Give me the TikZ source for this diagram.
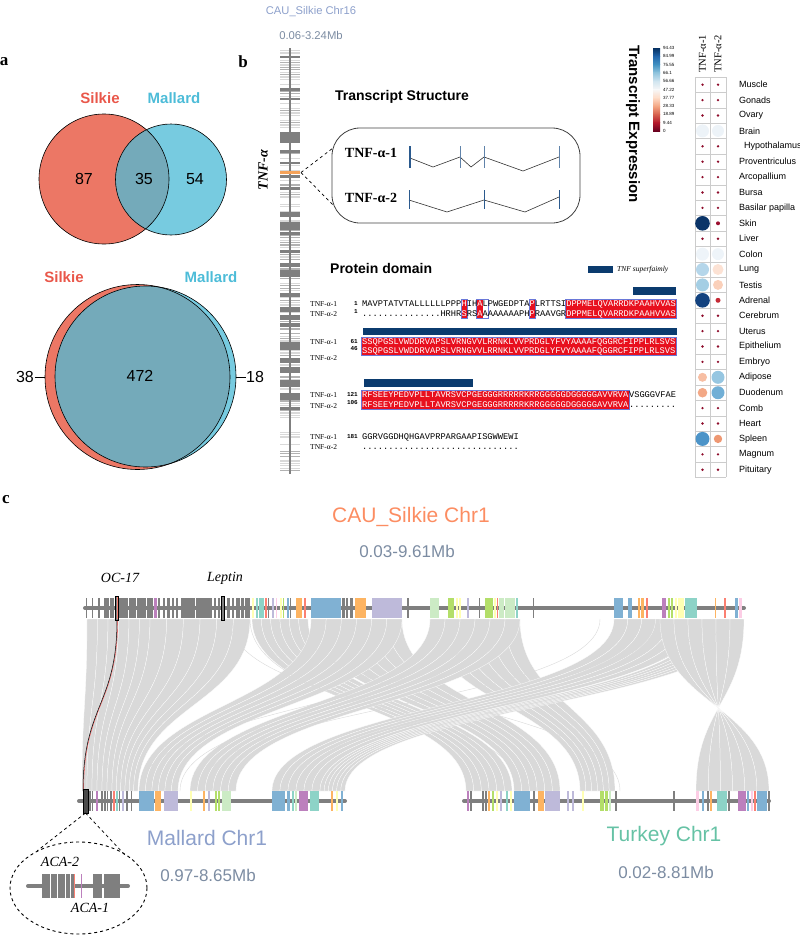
\documentclass[tikz,border=0pt]{standalone}
\usepackage{fontspec}
\setmainfont{Liberation Serif}
\setsansfont{Liberation Sans}
\setmonofont{Liberation Mono}
\usetikzlibrary{calc}

\newcommand\fsz[1]{\fontsize{#1}{#1}\selectfont}

% venn colours
\definecolor{silkie}{HTML}{EC7765}
\definecolor{mallard}{HTML}{77CBE0}
\definecolor{overlap}{HTML}{74AABA}
\definecolor{silkietxt}{HTML}{E9574A}
\definecolor{mallardtxt}{HTML}{4DBCD8}
% chromosome colours
\definecolor{chrgrey}{HTML}{7F7F7F}
\definecolor{darkchr}{HTML}{4A4A4A}
\definecolor{linkgrey}{HTML}{D9D9D9}
\definecolor{tnforange}{HTML}{F4A259}
\definecolor{cb}{HTML}{80B1D3}
\definecolor{co}{HTML}{FDB462}
\definecolor{cl}{HTML}{BEBADA}
\definecolor{cg}{HTML}{CCEBC5}
\definecolor{cG}{HTML}{B3DE69}
\definecolor{cy}{HTML}{FFFFB3}
\definecolor{ct}{HTML}{8DD3C7}
\definecolor{cp}{HTML}{BC80BD}
\definecolor{cr}{HTML}{FB8072}
\definecolor{ck}{HTML}{FCCDE5}
% titles
\definecolor{titleblue}{HTML}{8DA0CB}
\definecolor{rangegrey}{HTML}{7C8CA2}
\definecolor{titleorange}{HTML}{FC8D62}
\definecolor{titlegreen}{HTML}{66C2A5}
% alignment and transcript
\definecolor{alnred}{HTML}{E8101E}
\definecolor{alnblue}{HTML}{6A78D8}
\definecolor{domainblue}{HTML}{0B3B6E}
\definecolor{exonblue}{HTML}{2B5A8E}
% RdBu scale
\definecolor{rb0}{HTML}{053061}
\definecolor{rb1}{HTML}{2166AC}
\definecolor{rb2}{HTML}{4393C3}
\definecolor{rb3}{HTML}{92C5DE}
\definecolor{rb4}{HTML}{D1E5F0}
\definecolor{rb5}{HTML}{F7F7F7}
\definecolor{rb6}{HTML}{FDDBC7}
\definecolor{rb7}{HTML}{F4A582}
\definecolor{rb8}{HTML}{D6604D}
\definecolor{rb9}{HTML}{B2182B}
\definecolor{rb10}{HTML}{67001F}
\definecolor{hdot}{HTML}{8E0C2B}
\definecolor{hbrain}{HTML}{EDF3F8}
\definecolor{hcolon}{HTML}{EEF4F9}
\definecolor{hskin}{HTML}{0A3468}
\definecolor{hskinb}{HTML}{9C1030}
\definecolor{hlung}{HTML}{B5D6EA}
\definecolor{hlungb}{HTML}{FCE2D4}
\definecolor{htestis}{HTML}{A4CEE4}
\definecolor{htestisb}{HTML}{FAD0BA}
\definecolor{hadrenal}{HTML}{13427F}
\definecolor{hadrenalb}{HTML}{C52A36}
\definecolor{hadipose}{HTML}{F7BEA3}
\definecolor{hadiposeb}{HTML}{96C6E1}
\definecolor{hduo}{HTML}{F3A886}
\definecolor{hduob}{HTML}{71AFD6}
\definecolor{hspleen}{HTML}{4D94C8}
\definecolor{hspleenb}{HTML}{EE9873}

\tikzset{
    every node/.style={inner sep=0pt},
    venn/.style={draw=black, line width=0.6pt},
    vennlab/.style={font=\sffamily\bfseries\fsz{15}},
    vennnum/.style={font=\sffamily\fsz{16}},
    panel/.style={font=\bfseries\fsz{17}},
    subtitle/.style={font=\sffamily\bfseries\fsz{14}},
    aln/.style={font=\ttfamily\fsz{8.7}, anchor=base west},
    alnlab/.style={font=\fsz{7.5}, anchor=base west},
    alnnum/.style={font=\ttfamily\bfseries\fsz{6}, anchor=base east},
    exonline/.style={draw=exonblue, line width=1pt},
    intron/.style={draw=black!80, line width=0.6pt},
    chrline/.style={draw=chrgrey, line width=4pt, line cap=round},
    synlink/.style={fill=linkgrey, draw=white, line width=0.25pt},
    thinlink/.style={draw=linkgrey, line width=0.4pt},
    tissue/.style={font=\sffamily\fsz{9}, anchor=west},
    heatgrid/.style={draw=black!20, line width=0.5pt},
    cblab/.style={font=\sffamily\fsz{4.5}, anchor=west},
    bigtitle/.style={font=\sffamily\fsz{21}},
    rangetxt/.style={font=\sffamily\fsz{17}, text=rangegrey},
    genelab/.style={font=\itshape\fsz{14}},
}

\newcommand\segm[5]{\node[aln, text=#4] (#1) at ({362+(#2-1)*5.233},#3) {#5};}
\newcommand\redcol[4]{\fill[alnred] ({362+(#1-1)*5.233-0.3},#3) rectangle ({362+#2*5.233+0.3},#4);}
\newcommand\bluecol[4]{\draw[alnblue, line width=0.5pt] ({362+(#1-1)*5.233-0.5},#3) rectangle ({362+#2*5.233+0.5},#4);}

\begin{document}
\begin{tikzpicture}[x=1pt, y=-1pt]
\useasboundingbox (0,0) rectangle (800,938);

% ---------------- panel a ----------------
\node[panel] (la) at (4,62) {a};
\node[vennlab, text=silkietxt] (silk1) at (100,98) {Silkie};
\node[vennlab, text=mallardtxt] (mall1) at (174,98) {Mallard};
\fill[silkie] (104,179) circle (65);
\fill[mallard] (171,179.5) circle (55.5);
\begin{scope}
    \clip (104,179) circle (65);
    \fill[overlap] (171,179.5) circle (55.5);
\end{scope}
\draw[venn] (104,179) circle (65);
\draw[venn] (171,179.5) circle (55.5);
\node[vennnum] (n87) at (84,179) {87};
\node[vennnum] (n35) at (144,179) {35};
\node[vennnum] (n54) at (195,179) {54};

\node[vennlab, text=silkietxt] (silk2) at (64,277) {Silkie};
\node[vennlab, text=mallardtxt] (mall2) at (211,277) {Mallard};
\fill[silkie] (137.5,377) circle (92.5);
\fill[mallard] (145.5,376.5) circle (90.5);
\begin{scope}
    \clip (137.5,377) circle (92.5);
    \fill[overlap] (145.5,376.5) circle (90.5);
\end{scope}
\draw[venn] (137.5,377) circle (92.5);
\draw[venn] (145.5,376.5) circle (90.5);
\node[vennnum] (n472) at (140,376) {472};
\node[vennnum, anchor=east] (n38) at (34,377) {38};
\node[vennnum, anchor=west] (n18) at (246,377) {18};
\draw[line width=0.6pt] ($(n38.east)+(0.5,0)$) -- (45,377);
\draw[line width=0.6pt] (236,377) -- ($(n18.west)+(-0.5,0)$);

% ---------------- panel b ----------------
\node[panel] (lb) at (243,62) {b};
\node[font=\sffamily\fsz{11.2}, text=titleblue] (chr16) at (311,12) {CAU\_Silkie Chr16};
\node[font=\sffamily\fsz{11.3}, text=rangegrey] (chr16r) at (311,35) {0.06-3.24Mb};

% vertical chromosome
\pgfmathsetseed{11}
\foreach \y in {50,52.4,...,471} {
    \pgfmathrandominteger{\r}{0}{9}
    \ifnum\r<4 \fill[gray!30] (280,\y) rectangle (300,\y+1.1);
    \else\ifnum\r<7 \fill[gray!60] (280,\y) rectangle (300,\y+1.1); \fi\fi
}
\foreach \a/\b in {56/58, 88/91, 98/100, 132/143, 150/153, 162/164, 175/178, 187/190,
    212/217, 222/230, 232/235, 250/253, 263/267, 270/277, 293/297, 307/312, 315/320,
    323/327, 342/350, 358/363, 367/373, 380/387, 393/400, 407/410}
    \fill[chrgrey] (280,\a) rectangle (300,\b);
\draw[chrgrey, line width=1.5pt] (290,48) -- (290,474);
\fill[tnforange] (280,171) rectangle (300,173.5);
\node[rotate=90, font=\bfseries\itshape\fsz{14}] (tnf) at (263,170) {TNF-α};

% transcript structure
\node[subtitle] (tstruct) at (402,97) {Transcript Structure};
\coordinate (zoomtip) at (301,172.5);
\draw[dashed, line width=0.7pt] (zoomtip) -- (333,148);
\draw[dashed, line width=0.7pt] (zoomtip) -- (333,205);
\draw[black!75, line width=0.8pt, rounded corners=28pt] (332,128) rectangle (580,223);
\node[font=\bfseries\fsz{14}] (tr1) at (371,153) {TNF-α-1};
\node[font=\bfseries\fsz{14}] (tr2) at (371,198) {TNF-α-2};
\draw[intron] (410,158) -- (433,167) -- (460,157) -- (471,167) -- (484,157) -- (523,171) -- (559,157);
\draw[intron] (409,200) -- (447,212) -- (484,200) -- (525,212) -- (559,197);
\draw[exonline, line width=1.8pt] (410,146) -- (410,168);
\foreach \x in {460,484,559}
    \draw[exonline, draw=exonblue!75] (\x,146) -- (\x,168);
\foreach \x in {409,484,559}
    \draw[exonline] (\x,190) -- (\x,209);

% protein domain
\node[subtitle, anchor=west] (pdom) at (330,268) {Protein domain};
\fill[domainblue] (588,266) rectangle (613,273);
\node[font=\itshape\fsz{7.5}, anchor=west] (legtxt) at (617,270) {TNF superfaimly};

% block 1
\fill[domainblue] (633,287) rectangle (676,295);
\redcol{20}{20}{299}{318.5}
\redcol{23}{23}{299}{318.5}
\redcol{33}{33}{299}{318.5}
\redcol{40}{60}{299}{318.5}
\bluecol{20}{20}{299}{318.5}
\bluecol{23}{24}{299}{318.5}
\bluecol{33}{33}{299}{318.5}
\bluecol{40}{60}{299}{318.5}
\node[alnlab] (b1l1) at (310,306) {TNF-α-1};
\node[alnlab] (b1l2) at (310,316) {TNF-α-2};
\node[alnnum] (b1n1) at (358,305.5) {1};
\node[alnnum] (b1n2) at (358,313.5) {1};
\segm{a1a}{1}{306}{black}{MAVPTATVTALLLLLLPPP}
\segm{a1b}{20}{306}{white}{H}
\segm{a1c}{21}{306}{black}{IH}
\segm{a1d}{23}{306}{white}{A}
\segm{a1e}{24}{306}{black}{LPWGEDPTA}
\segm{a1f}{33}{306}{white}{P}
\segm{a1g}{34}{306}{black}{LRTTSI}
\segm{a1h}{40}{306}{white}{DPPMELQVARRDKPAAHVVAS}
\segm{a2a}{1}{316}{black}{...............HRHR}
\segm{a2b}{20}{316}{white}{S}
\segm{a2c}{21}{316}{black}{RS}
\segm{a2d}{23}{316}{white}{A}
\segm{a2e}{24}{316}{black}{AAAAAAAPH}
\segm{a2f}{33}{316}{white}{P}
\segm{a2g}{34}{316}{black}{RAAVGR}
\segm{a2h}{40}{316}{white}{DPPMELQVARRDKPAAHVVAS}

% block 2
\fill[domainblue] (363,328) rectangle (677,335);
\redcol{1}{60}{337.5}{355}
\bluecol{1}{60}{337.5}{355}
\node[alnlab] (b2l1) at (310,344) {TNF-α-1};
\node[alnlab] (b2l2) at (310,360) {TNF-α-2};
\node[alnnum] (b2n1) at (358,343.5) {61};
\node[alnnum] (b2n2) at (358,350.5) {46};
\segm{b1a}{1}{344}{white}{SSQPGSLVWDDRVAPSLVRNGVVLRRNKLVVPRDGLYFVYAAAAFQGGRCFIPPLRLSVS}
\segm{b2a}{1}{353}{white}{SSQPGSLVWDDRVAPSLVRNGVVLRRNKLVVPRDGLYFVYAAAAFQGGRCFIPPLRLSVS}

% block 3
\fill[domainblue] (364,379) rectangle (473,387);
\redcol{1}{51}{390}{409.5}
\bluecol{1}{51}{390}{409.5}
\node[alnlab] (b3l1) at (310,397) {TNF-α-1};
\node[alnlab] (b3l2) at (310,408) {TNF-α-2};
\node[alnnum] (b3n1) at (358,396) {121};
\node[alnnum] (b3n2) at (358,404) {106};
\segm{c1a}{1}{397}{white}{RFSEEYPEDVPLLTAVRSVCPGEGGGRRRRRKRRGGGGGDGGGGGAVVRVA}
\segm{c1b}{52}{397}{black}{VSGGGVFAE}
\segm{c2a}{1}{407.5}{white}{RFSEEYPEDVPLLTAVRSVCPGEGGGRRRRRKRRGGGGGDGGGGGAVVRVA}
\segm{c2b}{52}{407.5}{black}{.........}

% block 4
\node[alnlab] (b4l1) at (310,439) {TNF-α-1};
\node[alnlab] (b4l2) at (310,449) {TNF-α-2};
\node[alnnum] (b4n1) at (358,438) {181};
\segm{d1a}{1}{439}{black}{GGRVGGDHQHGAVPRPARGAAPISGWWEWI}
\segm{d2a}{1}{449}{black}{..............................}

% expression
\node[rotate=-90, anchor=west, font=\sffamily\bfseries\fsz{15}] (texpr) at (633,45) {Transcript Expression};
\foreach \i in {0,...,9} {
    \pgfmathtruncatemacro\j{\i+1}
    \shade[top color=rb\i, bottom color=rb\j] (653,{48+\i*8.3}) rectangle (660,{48+(\i+1)*8.3+0.2});
}
\foreach \v [count=\i from 0] in {94.43,84.99,75.55,66.1,56.66,47.22,37.77,28.33,18.89,9.44,0}
    \node[cblab] (cb\i) at (663,{48+\i*8.3}) {\v};

\node[rotate=90, anchor=west, font=\fsz{10.5}] (col1) at (702.5,73) {TNF-α-1};
\node[rotate=90, anchor=west, font=\fsz{10.5}] (col2) at (718,73) {TNF-α-2};
\foreach \i in {0,...,26}
    \draw[heatgrid] (695,{77+\i*15.4}) -- (726,{77+\i*15.4});
\foreach \x in {695,710,726}
    \draw[heatgrid] (\x,77) -- (\x,477.4);
\foreach \tname/\ra/\ca/\rb/\cbb [count=\i] in {
    Muscle/1.3/hdot/1.3/hdot, Gonads/1.3/hdot/1.3/hdot, Ovary/1.3/hdot/1.3/hdot,
    Brain/6.5/hbrain/6/hbrain, {\hspace*{5pt}Hypothalamus}/1.3/hdot/1.3/hdot,
    Proventriculus/1.3/hdot/1.3/hdot, Arcopallium/1.3/hdot/1.3/hdot,
    Bursa/1.3/hdot/1.3/hdot, Basilar papilla/1.3/hdot/1.3/hdot,
    Skin/7.3/hskin/2/hskinb, Liver/1.3/hdot/1.3/hdot, Colon/6.5/hcolon/6/hcolon,
    Lung/6.5/hlung/5.5/hlungb, Testis/6.5/htestis/5/htestisb,
    Adrenal/7.3/hadrenal/2.5/hadrenalb, Cerebrum/1.3/hdot/1.3/hdot,
    Uterus/1.3/hdot/1.3/hdot, Epithelium/1.3/hdot/1.3/hdot, Embryo/1.3/hdot/1.3/hdot,
    Adipose/4.5/hadipose/6.5/hadiposeb, Duodenum/4.8/hduo/6.5/hduob,
    Comb/1.3/hdot/1.3/hdot, Heart/1.3/hdot/1.3/hdot, Spleen/7/hspleen/4.2/hspleenb,
    Magnum/1.3/hdot/1.3/hdot, Pituitary/1.3/hdot/1.3/hdot} {
    \pgfmathsetmacro\yc{77+(\i-0.5)*15.4}
    \fill[\ca] (702.5,\yc) circle (\ra);
    \fill[\cbb] (718,\yc) circle (\rb);
    \node[tissue] (tis\i) at (739,\yc) {\tname};
}

% ---------------- panel c ----------------
\node[panel] (lc) at (6,500) {c};
\node[bigtitle, text=titleorange] (silkiechr) at (411,517) {CAU\_Silkie Chr1};
\node[rangetxt] (silkier) at (407,551) {0.03-9.61Mb};

% synteny links
\foreach \a/\b/\c/\d in {87/150/82/112, 150/250/112/138, 252/308/466/512,
    311/402/514/560, 311/402/139/178, 430/520/580/615, 430/520/190/236,
    614/697/272/320, 700/744/320/345, 660/744/769/696} {
    \foreach \k in {0,...,5} {
        \pgfmathsetmacro\pa{\a+(\b-\a)*\k/6}
        \pgfmathsetmacro\pb{\a+(\b-\a)*(\k+1)/6}
        \pgfmathsetmacro\pc{\c+(\d-\c)*\k/6}
        \pgfmathsetmacro\pd{\c+(\d-\c)*(\k+1)/6}
        \filldraw[synlink] (\pa,619) .. controls (\pa,705) and (\pc,705) .. (\pc,791)
            -- (\pd,791) .. controls (\pd,705) and (\pb,705) .. (\pb,619) -- cycle;
    }
}
\foreach \a/\c in {640/300, 655/310, 700/290, 720/330, 300/620, 250/470, 480/140, 500/180, 230/520, 600/200}
    \draw[thinlink] (\a,619) .. controls (\a,705) and (\c,705) .. (\c,791);
\draw[red!70, line width=0.4pt] (117.6,620) .. controls (117.6,705) and (83.6,705) .. (83.6,791);
\draw[black, line width=0.5pt] (117,620) .. controls (117,705) and (83,705) .. (83,791);

% chromosomes
\draw[chrline] (85,608) -- (744,608);
\draw[chrline] (79,801) -- (345,801);
\draw[chrline] (464,801) -- (769,801);
\foreach \x/\w/\c in {86/1.2/chrgrey, 92/1.2/chrgrey, 98/1.5/chrgrey, 104/5/chrgrey,
    110/4/chrgrey, 119/9/chrgrey, 129/7/chrgrey, 137/9/chrgrey, 147/6/chrgrey,
    154/2.5/cp, 158/1.5/chrgrey, 163/1.5/chrgrey, 167/2.5/chrgrey, 172/1.5/chrgrey,
    176/2/chrgrey, 181/14/chrgrey, 196/16/chrgrey, 214/1.5/chrgrey, 218/2/chrgrey,
    227/3/chrgrey, 232/2/chrgrey, 236/4/chrgrey, 241/3/chrgrey, 245/5/chrgrey,
    252/1.5/cy, 256/2/ct, 259/5/ct, 265/1.5/cr, 268/1/chrgrey, 272/1.5/cl, 276/1/ck,
    280/1.5/cy, 283/1/cG, 287/1.5/cb, 290/1/chrgrey, 296/6/co, 304/1.5/cr,
    311/30/cb, 342/3/chrgrey, 346/2/chrgrey, 350/3/chrgrey, 355/11/co, 372/30/cl,
    407/2/chrgrey, 430/9/cg, 448/6/cG, 456/1.5/cy, 459/1.5/cy, 467/1.5/cl,
    479/1/chrgrey, 485/8/cG, 494/2/cy, 497/1/cr, 499/5/cg, 505/10/cg, 516/2/ct,
    533/1/chrgrey, 614/9/cb, 628/4/cb, 638/2/co, 641/3/co, 646/2/cr, 662/4/cp,
    668/1.5/cG, 671/2/cG, 675/2/cy, 678/6/cy, 685/12/ct, 715/1/co, 724/2/cr,
    735/3/cb, 739/2.5/ck}
    \fill[\c] (\x,598) rectangle ++(\w,20);
\draw[black, line width=0.5pt, fill=chrgrey] (115.5,596) rectangle (118.5,620);
\draw[cr, line width=0.5pt] (117,597) -- (117,619);
\draw[black, line width=0.5pt, fill=chrgrey] (221.5,596) rectangle (224.5,620);
\node[genelab] (oc17) at (120,578) {OC-17};
\node[genelab] (leptin) at (225,578) {Leptin};

\foreach \x/\w/\c in {89/1.5/chrgrey, 92/1/chrgrey, 96/1.5/cp, 101/1.5/chrgrey,
    104/2/chrgrey, 107/1/chrgrey, 110/2/chrgrey, 113/1.5/cr, 116/2/ct, 119/1/chrgrey,
    122/1.5/cl, 126/1.5/chrgrey, 131/1/chrgrey, 139/15/cb, 155/6/co, 164/14/cl,
    190/2/cy, 203/1.5/co, 208/1.5/cl, 215/2/cG, 218/2/cG, 222/9/cg, 272/13/cb,
    287/3/cb, 292/2/ct, 295/2/cg, 299/9/cp, 310/9/ct, 331/1.5/co, 336/1.5/cy,
    341/1.5/cb,
    467/1.5/cp, 470/1.5/chrgrey, 482/2/chrgrey, 485/2/chrgrey, 488/1.5/co,
    492/1.5/cG, 496/1.5/cy, 500/1.5/cl, 506/1.5/ct, 510/2/cy, 514/16/cb,
    533/1.5/chrgrey, 538/6/co, 545/15/cl, 567/1.5/cl, 572/1.5/cl, 582/1.5/cy,
    600/4/cG, 605/3/cG, 609/2/cg, 615/1.5/chrgrey, 673/2/chrgrey, 696/2.5/ck,
    702/2/cb, 707/1.5/chrgrey, 710/2/co, 717/10/ct, 728/1.5/chrgrey, 738/8/cp,
    747/2/cb, 751/1.5/ck, 754/2/cr, 757/10/cb, 768/2/chrgrey}
    \fill[\c] (\x,791) rectangle ++(\w,20);
\draw[black, line width=0.4pt, fill=darkchr] (83,789) rectangle (88,813);

\node[bigtitle, text=titleblue] (mallchr) at (207,838) {Mallard Chr1};
\node[rangetxt] (mallr) at (208,875) {0.97-8.65Mb};
\node[bigtitle, text=titlegreen] (turkchr) at (664,836) {Turkey Chr1};
\node[rangetxt] (turkr) at (666,872) {0.02-8.81Mb};

% zoom of ACA region
\coordinate (acatip) at (85.5,813);
\draw[dashed, line width=0.8pt] (acatip) -- (37,851);
\draw[dashed, line width=0.8pt] (acatip) -- (125,855);
\draw[dashed, line width=0.9pt] (78.5,888) ellipse (68.5 and 46);
\draw[chrline] (28,886) -- (128,886);
\fill[chrgrey] (42,874) rectangle (73.5,898);
\fill[chrgrey] (93,874) rectangle (102,898);
\fill[chrgrey] (104,874) rectangle (120,898);
\foreach \x in {50,57,65,70}
    \draw[white, line width=0.6pt] (\x,874) -- (\x,898);
\draw[cr, line width=0.8pt] (74.5,874) -- (74.5,898);
\draw[cp, line width=0.8pt] (81,874) -- (81,898);
\node[genelab] (aca2) at (60,862) {ACA-2};
\node[genelab] (aca1) at (90,908) {ACA-1};
\end{tikzpicture}
\end{document}
